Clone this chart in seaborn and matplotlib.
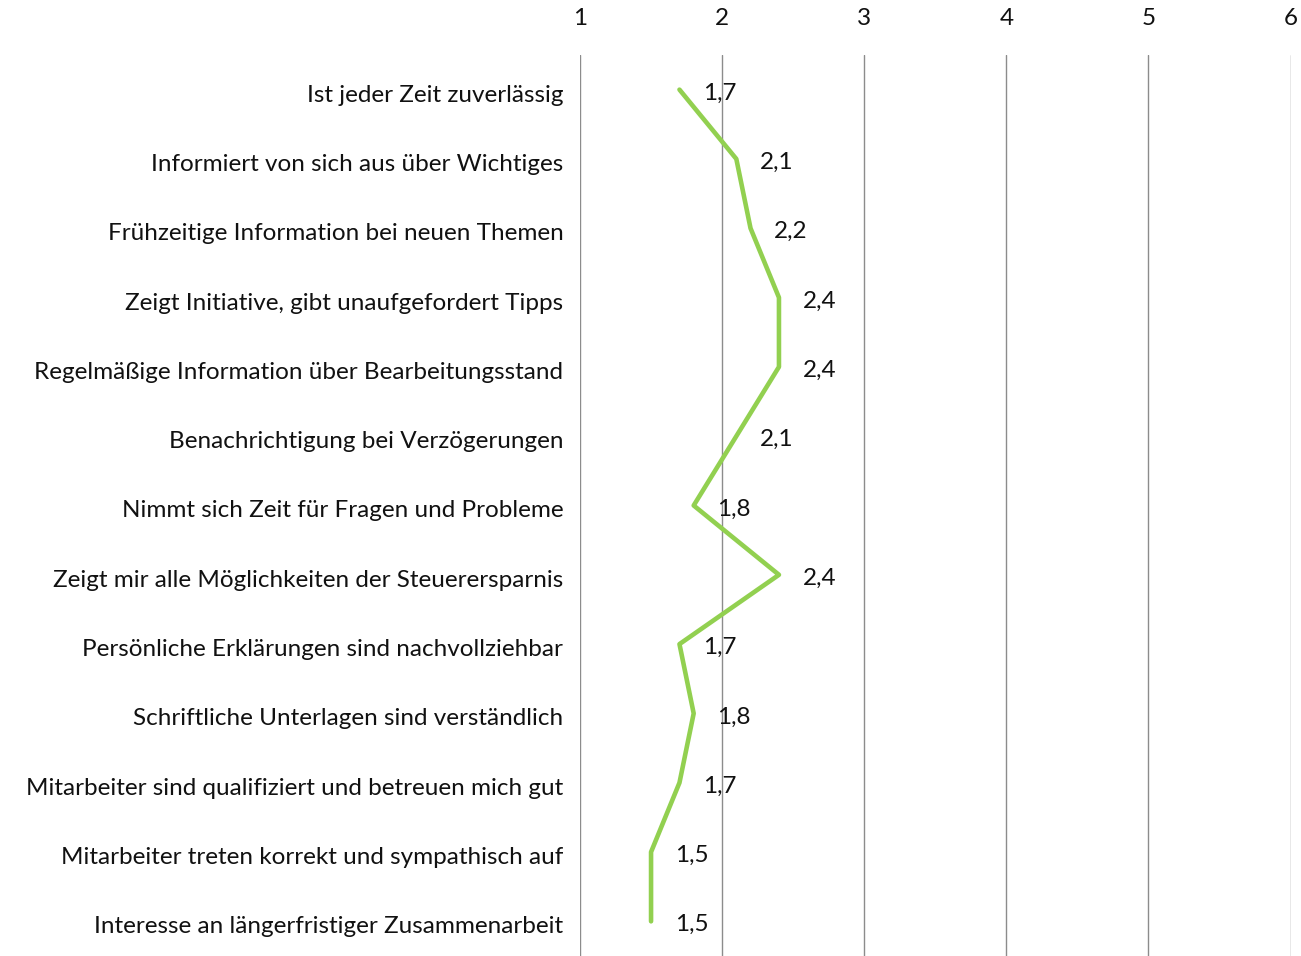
import matplotlib
matplotlib.use("Agg")
import matplotlib.pyplot as plt
import matplotlib.transforms as mtransforms
import seaborn as sns
import pandas as pd

categories = [
    "Ist jeder Zeit zuverlässig",
    "Informiert von sich aus über Wichtiges",
    "Frühzeitige Information bei neuen Themen",
    "Zeigt Initiative, gibt unaufgefordert Tipps",
    "Regelmäßige Information über Bearbeitungsstand",
    "Benachrichtigung bei Verzögerungen",
    "Nimmt sich Zeit für Fragen und Probleme",
    "Zeigt mir alle Möglichkeiten der Steuerersparnis",
    "Persönliche Erklärungen sind nachvollziehbar",
    "Schriftliche Unterlagen sind verständlich",
    "Mitarbeiter sind qualifiziert und betreuen mich gut",
    "Mitarbeiter treten korrekt und sympathisch auf",
    "Interesse an längerfristiger Zusammenarbeit",
]
scores = [1.7, 2.1, 2.2, 2.4, 2.4, 2.1, 1.8, 2.4, 1.7, 1.8, 1.7, 1.5, 1.5]
x_ticks = [1, 2, 3, 4, 5, 6]

sns.set_style("white")
plt.rcParams['font.family'] = ['Lato', 'DejaVu Sans']

df = pd.DataFrame({"pos": range(len(categories)), "score": scores})

fig = plt.figure(figsize=(13.01, 9.56), dpi=100)
ax = fig.add_axes([0.4458, 0.0, 0.5462, 0.9425])

sns.lineplot(data=df, x="score", y="pos", sort=False, orient="y",
             color="#92D050", linewidth=3.3, ax=ax)

# data labels, German decimal comma
for p, s in zip(df["pos"], df["score"]):
    ax.annotate(f"{s:.1f}".replace(".", ","), (s, p), xytext=(17, -2.5),
                textcoords="offset points", va="center", ha="left",
                fontsize=17.5, color="#111111")

ax.set_xlim(1, 6)
ax.set_ylim(len(categories) - 0.5, -0.5)
ax.set_xticks(x_ticks)
ax.set_xticklabels([str(t) for t in x_ticks], fontsize=17.5, color="#111111")
ax.xaxis.tick_top()
ax.tick_params(axis="x", length=0, pad=19)
ax.set_yticks(range(len(categories)))
ax.set_yticklabels(categories, fontsize=17.5, color="#111111")
ax.tick_params(axis="y", length=0, pad=12)

# nudge category labels down a little
shift = mtransforms.ScaledTranslation(0, -2.5 / 72, fig.dpi_scale_trans)
for lbl in ax.get_yticklabels():
    lbl.set_transform(lbl.get_transform() + shift)

ax.grid(axis="x", color="#8c8c8c", linewidth=1.0)
ax.set_axisbelow(True)
for sp in ax.spines.values():
    sp.set_visible(False)
ax.set_xlabel("")
ax.set_ylabel("")

fig.savefig("out.png", dpi=100)
